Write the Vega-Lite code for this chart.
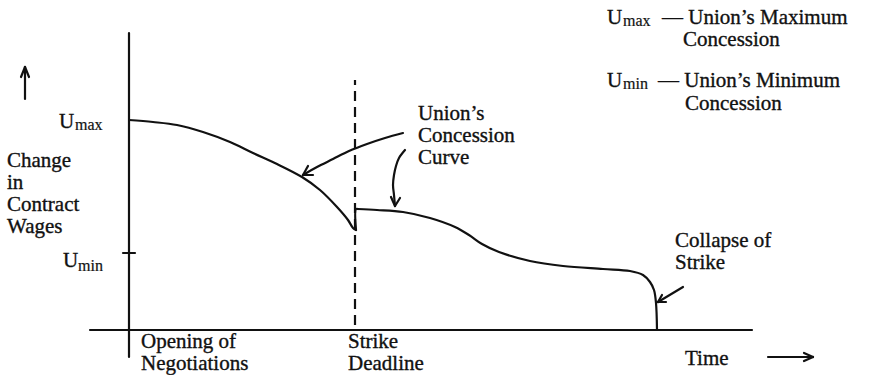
{
  "$schema": "https://vega.github.io/schema/vega-lite/v6.json",
  "width": 876,
  "height": 375,
  "padding": 0,
  "autosize": {"type": "fit", "contains": "padding"},
  "background": "white",
  "config": {"view": {"stroke": null}},
  "datasets": {
    "lines": [
      {"seg": "yaxis", "i": 0, "t": 0, "w": -27},
      {"seg": "yaxis", "i": 1, "t": 0, "w": 297},
      {"seg": "xaxis", "i": 0, "t": -39, "w": 0},
      {"seg": "xaxis", "i": 1, "t": 623, "w": 0},
      {"seg": "tick", "i": 0, "t": -6, "w": 77},
      {"seg": "tick", "i": 1, "t": 6, "w": 77},
      {"seg": "up", "i": 0, "t": -104, "w": 231},
      {"seg": "up", "i": 1, "t": -104, "w": 263},
      {"seg": "uph1", "i": 0, "t": -108, "w": 253},
      {"seg": "uph1", "i": 1, "t": -104, "w": 263},
      {"seg": "uph2", "i": 0, "t": -100, "w": 253},
      {"seg": "uph2", "i": 1, "t": -104, "w": 263},
      {"seg": "time", "i": 0, "t": 639, "w": -27},
      {"seg": "time", "i": 1, "t": 684, "w": -27},
      {"seg": "timeh1", "i": 0, "t": 675, "w": -23},
      {"seg": "timeh1", "i": 1, "t": 684, "w": -27},
      {"seg": "timeh2", "i": 0, "t": 675, "w": -31},
      {"seg": "timeh2", "i": 1, "t": 684, "w": -27},
      {"seg": "ann1", "i": 0, "t": 274, "w": 197},
      {"seg": "ann1", "i": 1, "t": 256, "w": 192},
      {"seg": "ann1", "i": 2, "t": 238, "w": 186},
      {"seg": "ann1", "i": 3, "t": 220, "w": 179},
      {"seg": "ann1", "i": 4, "t": 204, "w": 171},
      {"seg": "ann1", "i": 5, "t": 188, "w": 163},
      {"seg": "ann1", "i": 6, "t": 174, "w": 155},
      {"seg": "ann1h1", "i": 0, "t": 179, "w": 164},
      {"seg": "ann1h1", "i": 1, "t": 174, "w": 155},
      {"seg": "ann1h2", "i": 0, "t": 184, "w": 155},
      {"seg": "ann1h2", "i": 1, "t": 174, "w": 155},
      {"seg": "ann2", "i": 0, "t": 276, "w": 180},
      {"seg": "ann2", "i": 1, "t": 270, "w": 172},
      {"seg": "ann2", "i": 2, "t": 267, "w": 164},
      {"seg": "ann2", "i": 3, "t": 265, "w": 155},
      {"seg": "ann2", "i": 4, "t": 264, "w": 145},
      {"seg": "ann2", "i": 5, "t": 265, "w": 135},
      {"seg": "ann2", "i": 6, "t": 266, "w": 124},
      {"seg": "ann2h1", "i": 0, "t": 262, "w": 133},
      {"seg": "ann2h1", "i": 1, "t": 266, "w": 124},
      {"seg": "ann2h2", "i": 0, "t": 271, "w": 132},
      {"seg": "ann2h2", "i": 1, "t": 266, "w": 124},
      {"seg": "ann3", "i": 0, "t": 554, "w": 43},
      {"seg": "ann3", "i": 1, "t": 529, "w": 28},
      {"seg": "ann3h1", "i": 0, "t": 533, "w": 35},
      {"seg": "ann3h1", "i": 1, "t": 529, "w": 28},
      {"seg": "ann3h2", "i": 0, "t": 537, "w": 28},
      {"seg": "ann3h2", "i": 1, "t": 529, "w": 28},
      {"seg": "curveA", "i": 0, "t": 0, "w": 210},
      {"seg": "curveA", "i": 1, "t": 24, "w": 208},
      {"seg": "curveA", "i": 2, "t": 48, "w": 205},
      {"seg": "curveA", "i": 3, "t": 74, "w": 198},
      {"seg": "curveA", "i": 4, "t": 101, "w": 188},
      {"seg": "curveA", "i": 5, "t": 124, "w": 177},
      {"seg": "curveA", "i": 6, "t": 148, "w": 166},
      {"seg": "curveA", "i": 7, "t": 173, "w": 153},
      {"seg": "curveA", "i": 8, "t": 191, "w": 140},
      {"seg": "curveA", "i": 9, "t": 208, "w": 123},
      {"seg": "curveA", "i": 10, "t": 219, "w": 110},
      {"seg": "curveA", "i": 11, "t": 224, "w": 102},
      {"seg": "curveA", "i": 12, "t": 227, "w": 100},
      {"seg": "jump", "i": 0, "t": 227, "w": 100},
      {"seg": "jump", "i": 1, "t": 227, "w": 121},
      {"seg": "jump", "i": 2, "t": 229, "w": 121},
      {"seg": "curveB", "i": 0, "t": 229, "w": 121},
      {"seg": "curveB", "i": 1, "t": 248, "w": 120},
      {"seg": "curveB", "i": 2, "t": 274, "w": 118},
      {"seg": "curveB", "i": 3, "t": 301, "w": 112},
      {"seg": "curveB", "i": 4, "t": 326, "w": 103},
      {"seg": "curveB", "i": 5, "t": 340, "w": 95},
      {"seg": "curveB", "i": 6, "t": 353, "w": 86},
      {"seg": "curveB", "i": 7, "t": 370, "w": 78},
      {"seg": "curveB", "i": 8, "t": 401, "w": 69},
      {"seg": "curveB", "i": 9, "t": 434, "w": 64},
      {"seg": "curveB", "i": 10, "t": 474, "w": 61},
      {"seg": "curveB", "i": 11, "t": 501, "w": 59},
      {"seg": "curveB", "i": 12, "t": 514, "w": 55},
      {"seg": "curveB", "i": 13, "t": 521, "w": 48},
      {"seg": "curveB", "i": 14, "t": 525, "w": 40},
      {"seg": "curveB", "i": 15, "t": 527, "w": 27},
      {"seg": "curveB", "i": 16, "t": 528, "w": 0}
    ],
    "deadline": [{"t": 226, "w": 5, "w2": 250}],
    "labels": [
      {"label": "U", "t": -70, "w": 202},
      {"label": "U", "t": -66, "w": 63},
      {"label": "Change\nin\nContract\nWages", "t": -122, "w": 163},
      {"label": "Opening of\nNegotiations", "t": 12, "w": -18},
      {"label": "Strike\nDeadline", "t": 219, "w": -18},
      {"label": "Union’s\nConcession\nCurve", "t": 289, "w": 210},
      {"label": "U", "t": 478, "w": 306},
      {"label": "— Union’s Maximum", "t": 533, "w": 306},
      {"label": "Concession", "t": 554, "w": 284},
      {"label": "U", "t": 478, "w": 243},
      {"label": "— Union’s Minimum", "t": 529, "w": 243},
      {"label": "Concession", "t": 556, "w": 220},
      {"label": "Collapse of\nStrike", "t": 546, "w": 83},
      {"label": "Time", "t": 556, "w": -35}
    ],
    "subs": [
      {"label": "max", "t": -54, "w": 200},
      {"label": "min", "t": -51, "w": 59},
      {"label": "max", "t": 494, "w": 304},
      {"label": "min", "t": 494, "w": 241}
    ]
  },
  "layer": [
    {
      "data": {"name": "lines"},
      "mark": {"type": "line", "color": "#111111", "strokeWidth": 2.2, "interpolate": "catmull-rom", "strokeCap": "round", "strokeJoin": "round"},
      "encoding": {
        "x": {"field": "t", "type": "quantitative", "scale": {"domain": [-129, 747], "nice": false, "zero": false}, "axis": null},
        "y": {"field": "w", "type": "quantitative", "scale": {"domain": [-45, 330], "nice": false, "zero": false}, "axis": null},
        "detail": {"field": "seg"},
        "order": {"field": "i", "type": "quantitative"}
      }
    },
    {
      "data": {"name": "deadline"},
      "mark": {"type": "rule", "color": "#111111", "strokeWidth": 2.2, "strokeDash": [10, 6]},
      "encoding": {
        "x": {"field": "t", "type": "quantitative"},
        "y": {"field": "w", "type": "quantitative"},
        "y2": {"field": "w2"}
      }
    },
    {
      "data": {"name": "labels"},
      "mark": {"type": "text", "align": "left", "baseline": "alphabetic", "font": "Liberation Serif", "fontSize": 21, "lineBreak": "\n", "lineHeight": 22, "color": "#111111", "stroke": "#111111", "strokeWidth": 0.35},
      "encoding": {
        "x": {"field": "t", "type": "quantitative"},
        "y": {"field": "w", "type": "quantitative"},
        "text": {"field": "label"}
      }
    },
    {
      "data": {"name": "subs"},
      "mark": {"type": "text", "align": "left", "baseline": "alphabetic", "font": "Liberation Serif", "fontSize": 16, "color": "#111111", "stroke": "#111111", "strokeWidth": 0.2},
      "encoding": {
        "x": {"field": "t", "type": "quantitative"},
        "y": {"field": "w", "type": "quantitative"},
        "text": {"field": "label"}
      }
    }
  ]
}
